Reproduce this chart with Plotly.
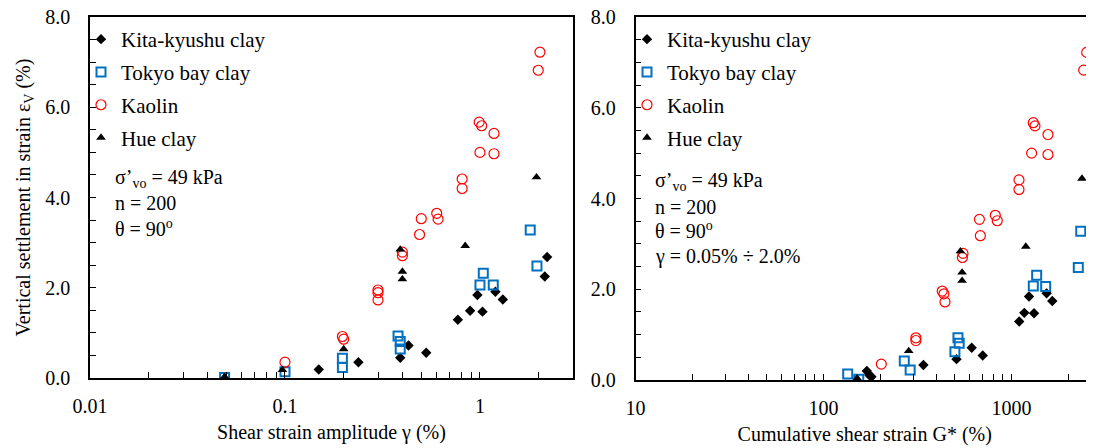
import plotly.graph_objects as go

# ---------------- data ----------------
# Left panel: shear strain amplitude gamma (%) vs vertical strain (%)
gamma_kita = [2.21, 2.15, 1.20, 0.97, 1.31, 0.89, 1.03, 0.77, 0.53, 0.43, 0.39, 0.238, 0.149]
ev_kita    = [2.68, 2.25, 1.91, 1.84, 1.74, 1.49, 1.47, 1.29, 0.56, 0.72, 0.45, 0.35, 0.19]

gamma_tokyo = [1.81, 1.96, 1.04, 1.00, 1.17, 0.38, 0.39, 0.39, 0.197, 0.197, 0.100, 0.049]
ev_tokyo    = [3.28, 2.48, 2.32, 2.06, 2.06, 0.93, 0.81, 0.64, 0.44, 0.23, 0.14, 0.01]

gamma_kaolin = [2.03, 1.99, 0.99, 1.02, 1.18, 1.00, 1.18, 0.81, 0.81, 0.50, 0.60, 0.61, 0.49,
                0.40, 0.40, 0.30, 0.30, 0.30, 0.197, 0.200, 0.100]
ev_kaolin    = [7.22, 6.82, 5.67, 5.59, 5.42, 5.00, 4.97, 4.41, 4.20, 3.53, 3.65, 3.52, 3.18,
                2.79, 2.71, 1.95, 1.89, 1.73, 0.92, 0.86, 0.35]

gamma_hue = [0.39, 0.40, 0.40, 0.84, 1.95, 0.20, 0.097, 0.049]
ev_hue    = [2.85, 2.36, 2.19, 2.93, 4.45, 0.64, 0.18, 0.03]

# Right panel: cumulative shear strain G* (%) vs vertical strain (%)
G_kita  = [2723, 2723, 1239, 1538, 1648, 1170, 1318, 1099, 614, 703, 510, 340, 170, 175, 180]
evG_kita = [2.67, 2.26, 1.84, 1.91, 1.74, 1.48, 1.47, 1.29, 0.71, 0.54, 0.46, 0.33, 0.20, 0.11, 0.07]

G_tokyo  = [2335, 2266, 1361, 1306, 1520, 519, 527, 500, 269, 289, 134.5, 154]
evG_tokyo = [3.28, 2.48, 2.31, 2.07, 2.06, 0.93, 0.81, 0.62, 0.42, 0.22, 0.13, 0.015]

G_kaolin  = [2512, 2420, 1306, 1333, 1563, 1279, 1563, 1096, 1096, 675, 820, 840, 683,
             552, 548, 428, 437, 443, 310, 310, 203]
evG_kaolin = [7.22, 6.83, 5.67, 5.60, 5.41, 5.00, 4.97, 4.41, 4.20, 3.54, 3.63, 3.51, 3.18,
              2.79, 2.70, 1.96, 1.90, 1.72, 0.93, 0.87, 0.35]

G_hue  = [2371, 1191, 535, 546, 546, 284, 151]
evG_hue = [4.44, 2.94, 2.84, 2.37, 2.19, 0.64, 0.04]

series_names = ["Kita-kyushu clay", "Tokyo bay clay", "Kaolin", "Hue clay"]

x_ticks_left = [0.01, 0.1, 1]
x_ticklabels_left = ["0.01", "0.1", "1"]
x_ticks_right = [10, 100, 1000]
x_ticklabels_right = ["10", "100", "1000"]
y_ticks = [0, 2, 4, 6, 8]

# ---------------- styling ----------------
W, H = 1094, 448
OFF = 8  # page body margin
BLUE = "#0070C0"
RED = "#FF0000"
FONT = "Times New Roman"

styles = [
    dict(symbol="diamond", size=8, color="black", line=dict(width=0)),
    dict(symbol="square-open", size=9, color=BLUE, line=dict(width=2, color=BLUE)),
    dict(symbol="circle-open", size=10, color=RED, line=dict(width=1.2, color=RED)),
    dict(symbol="triangle-up", size=8.5, color="black", line=dict(width=0)),
]

fig = go.Figure()
left_sets = [(gamma_kita, ev_kita), (gamma_tokyo, ev_tokyo), (gamma_kaolin, ev_kaolin), (gamma_hue, ev_hue)]
right_sets = [(G_kita, evG_kita), (G_tokyo, evG_tokyo), (G_kaolin, evG_kaolin), (G_hue, evG_hue)]

for i, (name, (xs, ys)) in enumerate(zip(series_names, left_sets)):
    fig.add_trace(go.Scatter(x=xs, y=ys, mode="markers", name=name, marker=styles[i],
                             xaxis="x", yaxis="y", legend="legend", legendgroup="L%d" % i))
for i, (name, (xs, ys)) in enumerate(zip(series_names, right_sets)):
    fig.add_trace(go.Scatter(x=xs, y=ys, mode="markers", name=name, marker=styles[i],
                             xaxis="x2", yaxis="y2", legend="legend2", legendgroup="R%d" % i))

def px(x):
    return (x - OFF) / W

def py(y):
    return 1 - (y - OFF) / H

tick_font = dict(family=FONT, size=20, color="black")
title_font = dict(family=FONT, size=20, color="black")

common_y = dict(range=[0, 8], tickvals=y_ticks, tickformat=".1f",
                ticks="inside", ticklen=6, tickwidth=1.3, tickcolor="black",
                minor=dict(dtick=0.5, ticks="inside", ticklen=6, tickwidth=1.3, tickcolor="black"),
                showline=True, linecolor="black", linewidth=1.5, showgrid=False, zeroline=False,
                tickfont=tick_font, ticklabelstandoff=14, automargin=False,
                ticklabeloverflow="allow")

common_x = dict(type="log", ticks="inside", ticklen=6, tickwidth=1.3, tickcolor="black",
                showline=True, linecolor="black", linewidth=2, showgrid=False, zeroline=False,
                tickfont=tick_font, ticklabelstandoff=9, automargin=False,
                ticklabeloverflow="allow")

minor_left = [v * m for v in [0.01, 0.1, 1] for m in range(2, 10) if v * m <= 3.0]
minor_right = [v * m for v in [10, 100, 1000] for m in range(2, 10) if v * m <= 2800]

fig.update_layout(
    template="none",
    width=W, height=H,
    margin=dict(l=0, r=0, t=0, b=0, pad=0),
    paper_bgcolor="white", plot_bgcolor="white",
    font=dict(family=FONT, color="black"),
    xaxis=dict(common_x, domain=[px(90), px(573)], range=[-2, 0.4771],
               tickvals=x_ticks_left, ticktext=x_ticklabels_left,
               minor=dict(tickvals=minor_left, ticks="inside", ticklen=6, tickwidth=1.3, tickcolor="black"),
               mirror=True, anchor="y",
               title=dict(text="Shear strain amplitude γ (%)", font=title_font, standoff=9)),
    yaxis=dict(common_y, domain=[py(378), py(17)], mirror=True, anchor="x",
               title=dict(text="Vertical settlement in strain ε<sub>V</sub> (%)", font=title_font, standoff=9)),
    xaxis2=dict(common_x, domain=[px(635.5), px(1094)], range=[1, 1 + (1094 - 635.5) / 188],
                tickvals=x_ticks_right, ticktext=x_ticklabels_right,
                minor=dict(tickvals=minor_right, ticks="inside", ticklen=6, tickwidth=1.3, tickcolor="black"),
                mirror=True, anchor="y2",
                title=dict(text="Cumulative shear strain G* (%)", font=title_font, standoff=9)),
    yaxis2=dict(common_y, domain=[py(380), py(17)], anchor="x2"),
    legend=dict(x=px(81), y=py(19), xanchor="left", yanchor="top",
                font=dict(family=FONT, size=21, color="black"), bgcolor="rgba(0,0,0,0)",
                tracegroupgap=2.5, itemwidth=30),
    legend2=dict(x=px(627), y=py(19), xanchor="left", yanchor="top",
                 font=dict(family=FONT, size=21, color="black"), bgcolor="rgba(0,0,0,0)",
                 tracegroupgap=2.5, itemwidth=30),
)

ann_font = dict(family=FONT, size=20, color="black")
left_lines = [("σ’<sub>vo</sub> = 49 kPa", 178), ("n = 200", 203), ("θ = 90<sup>o</sup>", 228)]
right_lines = [("σ’<sub>vo</sub> = 49 kPa", 181), ("n = 200", 207), ("θ = 90<sup>o</sup>", 230),
               ("γ = 0.05% ÷ 2.0%", 256)]
for txt, yy in left_lines:
    fig.add_annotation(text=txt, x=px(113), y=py(yy), xref="paper", yref="paper",
                       xanchor="left", yanchor="middle", showarrow=False, font=ann_font)
for txt, yy in right_lines:
    fig.add_annotation(text=txt, x=px(653), y=py(yy), xref="paper", yref="paper",
                       xanchor="left", yanchor="middle", showarrow=False, font=ann_font)

fig.write_html("out.html")
